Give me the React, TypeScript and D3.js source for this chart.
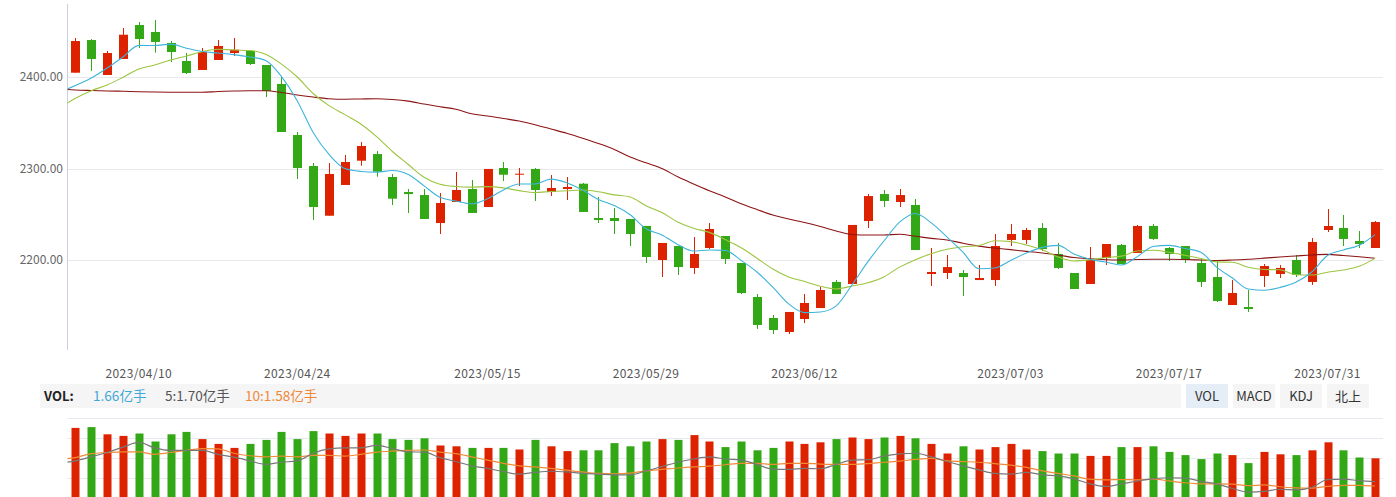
import React from 'react';
import * as d3 from 'd3';

// ---- data ----
const dates = [
  '2023/04/03','2023/04/04','2023/04/06','2023/04/07','2023/04/10','2023/04/11','2023/04/12','2023/04/13','2023/04/14',
  '2023/04/17','2023/04/18','2023/04/19','2023/04/20','2023/04/21','2023/04/24','2023/04/25','2023/04/26','2023/04/27',
  '2023/04/28','2023/05/04','2023/05/05','2023/05/08','2023/05/09','2023/05/10','2023/05/11','2023/05/12','2023/05/15',
  '2023/05/16','2023/05/17','2023/05/18','2023/05/19','2023/05/22','2023/05/23','2023/05/24','2023/05/25','2023/05/26',
  '2023/05/29','2023/05/30','2023/05/31','2023/06/01','2023/06/02','2023/06/05','2023/06/06','2023/06/07','2023/06/08',
  '2023/06/09','2023/06/12','2023/06/13','2023/06/14','2023/06/15','2023/06/16','2023/06/19','2023/06/20','2023/06/21',
  '2023/06/26','2023/06/27','2023/06/28','2023/06/29','2023/06/30','2023/07/03','2023/07/04','2023/07/05','2023/07/06',
  '2023/07/07','2023/07/10','2023/07/11','2023/07/12','2023/07/13','2023/07/14','2023/07/17','2023/07/18','2023/07/19',
  '2023/07/20','2023/07/21','2023/07/24','2023/07/25','2023/07/26','2023/07/27','2023/07/28','2023/07/31','2023/08/01',
  '2023/08/02','2023/08/03',
];

const open = [
  2404.7,2440.4,2402.2,2419.7,2456.8,2449.2,2437.2,2417.5,2407.7,2418.6,
  2426.2,2428.4,2413.1,2392.4,2336.6,2302.7,2248.4,2282.0,2308.5,2315.8,
  2290.7,2274.3,2271.0,2240.4,2263.4,2277.6,2257.9,2300.5,2293.2,2299.5,
  2274.3,2277.6,2283.4,2245.9,2245.9,2244.8,2237.2,2200.0,2215.3,2191.3,
  2213.1,2226.2,2196.7,2159.6,2136.6,2121.3,2135.5,2147.5,2176.0,2173.8,
  2242.6,2272.1,2263.4,2260.1,2184.7,2185.8,2185.8,2178.1,2178.1,2221.9,
  2221.9,2235.0,2206.6,2185.8,2173.8,2202.2,2216.4,2207.7,2237.2,2213.1,
  2215.3,2196.7,2181.4,2150.8,2148.6,2182.5,2184.7,2200.0,2176.0,2232.8,
  2235.0,2220.8,2213.1,
];
const high = [
  2442.6,2441.5,2428.4,2453.6,2460.1,2462.3,2439.3,2426.2,2431.7,2440.4,
  2442.6,2429.5,2413.1,2400.0,2339.9,2306.0,2306.0,2314.8,2329.0,2319.1,
  2294.0,2277.6,2277.6,2273.2,2296.2,2287.4,2299.5,2307.1,2300.5,2300.5,
  2292.9,2290.7,2284.2,2268.9,2256.8,2244.8,2237.2,2218.6,2215.3,2225.1,
  2240.4,2226.2,2196.7,2162.8,2139.9,2143.2,2162.8,2170.5,2178.1,2238.3,
  2272.1,2276.5,2277.6,2266.7,2213.1,2205.5,2189.1,2194.5,2228.4,2239.3,
  2235.0,2240.4,2218.6,2185.8,2214.2,2217.5,2217.5,2238.3,2239.3,2214.2,
  2215.3,2201.1,2200.0,2178.1,2167.2,2195.6,2194.5,2205.5,2224.0,2255.7,
  2249.2,2231.7,2242.6,
];
const low = [
  2404.7,2406.6,2402.2,2419.7,2431.7,2426.6,2416.4,2403.3,2407.7,2418.6,
  2423.0,2413.1,2378.1,2339.9,2288.5,2243.7,2248.4,2282.0,2303.1,2291.0,
  2260.1,2251.4,2244.8,2228.4,2263.4,2251.4,2257.9,2286.3,2280.9,2264.5,
  2269.9,2265.6,2252.5,2240.4,2228.4,2215.3,2196.7,2181.4,2183.6,2184.7,
  2212.0,2195.6,2162.8,2124.6,2119.1,2119.1,2131.1,2147.5,2162.8,2173.8,
  2235.0,2257.9,2257.9,2210.9,2171.6,2179.2,2160.7,2178.1,2171.6,2215.3,
  2217.5,2209.8,2190.2,2168.3,2173.8,2194.5,2195.6,2207.7,2221.9,2198.9,
  2196.7,2170.5,2154.1,2150.8,2143.2,2170.5,2180.3,2181.4,2172.7,2230.6,
  2215.3,2213.1,2213.1,
];
const close = [
  2439.3,2419.7,2426.2,2446.2,2441.5,2438.3,2427.3,2404.4,2427.3,2433.9,
  2429.8,2414.2,2384.7,2339.9,2300.5,2257.9,2294.0,2307.1,2324.6,2296.5,
  2267.0,2272.1,2244.8,2262.3,2276.5,2251.4,2299.5,2293.2,2294.3,2276.5,
  2278.7,2279.8,2252.5,2243.7,2242.6,2228.4,2203.3,2218.6,2192.3,2206.6,
  2233.9,2201.1,2163.9,2129.0,2123.5,2143.2,2153.0,2167.2,2162.8,2238.3,
  2269.9,2264.5,2271.0,2210.9,2186.9,2192.3,2181.4,2180.3,2215.3,2228.4,
  2232.8,2212.0,2191.3,2168.3,2200.0,2217.5,2195.6,2237.2,2223.0,2206.6,
  2200.0,2176.0,2155.2,2163.9,2146.4,2193.4,2191.3,2183.6,2219.7,2237.2,
  2223.0,2217.5,2241.5,
];

// moving-average lines; first value belongs to the trading day before 2023/04/03
const ma5 = [
  2383.6,2390.7,2398.9,2409.8,2421.9,2434.6,2434.4,2435.9,2431.5,2427.8,
  2426.2,2424.5,2421.9,2418.0,2400.5,2373.8,2339.4,2315.4,2299.9,2296.8,
  2296.0,2297.8,2293.5,2281.0,2268.5,2264.5,2261.4,2266.9,2276.6,2283.0,
  2283.0,2288.4,2284.5,2276.4,2266.2,2259.5,2249.4,2234.1,2227.3,2217.0,
  2209.8,2210.9,2210.5,2199.6,2186.9,2170.3,2152.1,2142.5,2143.2,2149.9,
  2172.9,2198.2,2220.5,2241.3,2250.9,2240.6,2225.1,2208.5,2190.4,2191.2,
  2199.5,2207.6,2213.8,2216.0,2206.6,2200.9,2197.8,2194.5,2203.7,2214.7,
  2216.0,2212.5,2208.6,2192.2,2180.3,2168.3,2167.0,2170.0,2175.7,2186.9,
  2205.0,2211.0,2216.2,2227.8,
];
const ma10 = [
  2366.1,2376.7,2385.0,2391.3,2399.7,2408.7,2413.1,2418.6,2423.0,2427.6,
  2430.4,2429.5,2428.9,2424.8,2414.1,2400.0,2382.0,2368.7,2358.9,2348.7,
  2334.9,2318.6,2304.4,2290.4,2282.7,2280.3,2279.6,2280.2,2278.8,2275.8,
  2273.8,2274.9,2275.7,2276.5,2274.6,2271.2,2268.9,2259.3,2251.8,2241.6,
  2234.7,2230.2,2222.3,2213.4,2202.0,2190.1,2181.5,2176.5,2171.4,2168.4,
  2171.6,2175.2,2181.5,2192.2,2200.4,2206.8,2211.7,2214.5,2215.8,2221.1,
  2220.1,2216.4,2211.1,2203.2,2198.9,2200.2,2202.7,2204.2,2209.8,2210.6,
  2208.4,2205.2,2201.6,2197.9,2197.5,2192.1,2189.7,2189.3,2183.9,2183.6,
  2186.7,2189.0,2193.1,2201.8,
];
const ma60 = [
  2386.9,2385.8,2385.2,2384.7,2384.4,2383.9,2383.6,2383.4,2383.3,2383.3,
  2384.2,2384.7,2385.0,2385.0,2383.1,2380.3,2378.1,2376.3,2375.7,2376.0,
  2376.3,2375.4,2373.6,2370.5,2367.5,2364.8,2359.8,2357.4,2354.6,2351.9,
  2347.9,2343.2,2338.5,2333.1,2327.3,2320.8,2312.6,2306.2,2300.0,2290.9,
  2283.1,2275.7,2268.9,2261.4,2255.2,2249.2,2244.8,2241.0,2236.6,2231.7,
  2227.9,2227.3,2227.3,2228.2,2226.0,2223.6,2221.9,2218.3,2215.2,2213.1,
  2211.3,2209.4,2207.7,2205.5,2202.7,2201.3,2200.3,2200.0,2200.5,2200.8,
  2200.8,2200.5,2200.0,2199.5,2200.0,2200.8,2202.0,2203.3,2204.4,2205.5,
  2206.1,2204.9,2203.5,2201.9,
];

// volume, 亿手
const volume = [
  2.04,2.05,1.96,1.94,1.97,1.87,1.96,1.99,1.90,1.84,
  1.79,1.84,1.89,1.99,1.90,2.00,1.97,1.94,1.97,1.97,
  1.90,1.89,1.91,1.82,1.81,1.79,1.79,1.79,1.77,1.89,
  1.81,1.75,1.76,1.76,1.85,1.81,1.87,1.90,1.89,1.95,
  1.87,1.80,1.87,1.76,1.79,1.87,1.84,1.86,1.90,1.92,
  1.90,1.92,1.94,1.91,1.84,1.72,1.81,1.77,1.80,1.84,
  1.77,1.75,1.72,1.72,1.69,1.69,1.80,1.80,1.81,1.74,
  1.70,1.65,1.72,1.70,1.60,1.74,1.71,1.70,1.76,1.86,
  1.76,1.67,1.66,
];
const volMa5 = [
  2.22,2.28,2.39,2.51,2.66,2.79,2.64,2.57,2.57,2.57,
  2.46,2.38,2.28,2.18,2.24,2.28,2.49,2.61,2.64,2.64,
  2.71,2.62,2.53,2.52,2.37,2.26,2.14,2.07,1.98,1.91,
  1.96,1.99,1.97,1.93,1.91,1.89,1.89,2.00,2.12,2.24,
  2.33,2.39,2.33,2.30,2.18,2.05,2.04,2.07,2.06,2.18,
  2.30,2.31,2.41,2.47,2.49,2.39,2.26,2.14,2.03,1.93,
  1.91,1.96,1.89,1.86,1.78,1.64,1.57,1.64,1.72,1.78,
  1.81,1.80,1.71,1.64,1.51,1.41,1.43,1.49,1.47,1.54,
  1.76,1.77,1.73,1.70,
];
const volMa10 = [
  2.33,2.37,2.48,2.51,2.53,2.53,2.46,2.51,2.57,2.62,
  2.61,2.49,2.42,2.39,2.41,2.39,2.43,2.43,2.41,2.46,
  2.52,2.55,2.57,2.58,2.52,2.48,2.39,2.30,2.21,2.14,
  2.11,2.07,2.02,1.97,1.93,1.92,1.94,2.00,2.04,2.08,
  2.11,2.13,2.17,2.21,2.21,2.18,2.21,2.21,2.19,2.18,
  2.18,2.20,2.24,2.27,2.32,2.35,2.28,2.26,2.24,2.20,
  2.16,2.10,2.00,1.93,1.86,1.77,1.75,1.76,1.75,1.77,
  1.72,1.67,1.64,1.64,1.63,1.59,1.61,1.56,1.53,1.52,
  1.57,1.60,1.60,1.58,
];

const priceTicks = [2200, 2300, 2400];
const dateTicks = ['2023/04/10','2023/04/24','2023/05/15','2023/05/29','2023/06/12','2023/07/03','2023/07/17','2023/07/31'];
const volGridTicks = [1.41, 1.66, 1.91, 2.16];
const legendItems = [
  { text: '1.66亿手', color: '#3fa9d6' },
  { text: '5:1.70亿手', color: '#555555' },
  { text: '10:1.58亿手', color: '#f0883a' },
];
const tabs = ['VOL', 'MACD', 'KDJ', '北上'];

// ---- layout ----
const W = 1396;
const H = 497;
const LEFT = 67.5;
const RIGHT = 1383;
const RED = '#dd2200';
const GREEN = '#33a816';
const FONT = '"Noto Sans CJK SC", "Liberation Sans", Arial, sans-serif';

export default function App() {
  const x = d3.scaleLinear().domain([-0.5, dates.length - 0.5]).range([LEFT, RIGHT]);
  const y = d3.scaleLinear().domain([2200, 2400]).range([260, 77]);
  const yVol = d3.scaleLinear().domain([1.16, 2.16]).range([498.3, 418.3]);
  const yVolMa = d3.scaleLinear().domain([1.247, 3.469]).range([498, 418]);

  const priceLine = d3
    .line<number>()
    .x((_, i) => x(i - 1))
    .y((d) => y(d))
    .curve(d3.curveMonotoneX);
  const volLine = d3
    .line<number>()
    .x((_, i) => x(i - 1))
    .y((d) => yVolMa(d))
    .curve(d3.curveMonotoneX);

  const bodyW = 9;
  const volW = 8;

  return (
    <div style={{ position: 'absolute', left: 0, top: 0, width: W, height: H, overflow: 'hidden', background: '#fff' }}>
      <svg width={W} height={H} style={{ display: 'block' }} fontFamily={FONT}>
        <defs>
          <clipPath id="mainClip">
            <rect x={LEFT} y={4} width={RIGHT - LEFT} height={346} />
          </clipPath>
          <clipPath id="volClip">
            <rect x={LEFT} y={412} width={RIGHT - LEFT} height={90} />
          </clipPath>
        </defs>

        {/* price grid */}
        {priceTicks.map((t) => (
          <line key={t} x1={LEFT} x2={RIGHT} y1={Math.round(y(t)) + 0.5} y2={Math.round(y(t)) + 0.5} stroke="#e9e9ec" strokeWidth={1} />
        ))}
        {priceTicks.map((t) => (
          <text key={'l' + t} x={63} y={y(t)} dy="0.35em" textAnchor="end" fontSize={12} fill="#666">
            {d3.format('.2f')(t)}
          </text>
        ))}
        <line x1={LEFT} x2={LEFT} y1={4} y2={350} stroke="#c9d1e0" strokeWidth={1} />

        {/* candles */}
        <g clipPath="url(#mainClip)">
          {dates.map((d, i) => {
            const up = close[i] >= open[i];
            const c = up ? RED : GREEN;
            const cx = Math.round(x(i)) + 0.5;
            const top = y(Math.max(open[i], close[i]));
            const bot = y(Math.min(open[i], close[i]));
            return (
              <g key={d}>
                <line x1={cx} x2={cx} y1={y(high[i])} y2={y(low[i])} stroke={c} strokeWidth={1} />
                <rect x={cx - bodyW / 2} y={top} width={bodyW} height={Math.max(1, bot - top)} fill={c} />
              </g>
            );
          })}
          <path d={priceLine(ma60) || ''} fill="none" stroke="#8c1414" strokeWidth={1.1} />
          <path d={priceLine(ma10) || ''} fill="none" stroke="#9dc53f" strokeWidth={1.1} />
          <path d={priceLine(ma5) || ''} fill="none" stroke="#3db4da" strokeWidth={1.1} />
        </g>

        {/* date labels */}
        {dateTicks.map((t) => (
          <text key={t} x={x(dates.indexOf(t))} y={378} textAnchor="middle" fontSize={12} fill="#555" letterSpacing={0.4}>
            {t}
          </text>
        ))}

        {/* legend bar */}
        <rect x={40} y={384} width={1141} height={24} fill="#f5f5f5" />
        <text x={44} y={401} fontSize={13} fontWeight="bold" fill="#222">VOL:</text>
        {legendItems.map((it, k) => (
          <text key={it.text} x={[93, 165, 245][k]} y={401} fontSize={13.6} fill={it.color}>
            {it.text}
          </text>
        ))}
        {tabs.map((t, k) => (
          <g key={t}>
            <rect x={1186 + k * 47} y={384} width={42} height={24} fill={k === 0 ? '#e5edf7' : '#f5f5f5'} />
            <text x={1186 + k * 47 + 21} y={401} textAnchor="middle" fontSize={13} fill="#333">
              {t}
            </text>
          </g>
        ))}

        {/* volume grid */}
        {volGridTicks.map((t) => (
          <line key={t} x1={LEFT} x2={RIGHT} y1={Math.round(yVol(t)) + 0.5} y2={Math.round(yVol(t)) + 0.5} stroke="#e6e9ef" strokeWidth={1} />
        ))}
        <g clipPath="url(#volClip)">
          {dates.map((d, i) => {
            const up = close[i] >= open[i];
            const cx = Math.round(x(i)) + 0.5;
            const top = yVol(volume[i]);
            return <rect key={d} x={cx - volW / 2} y={top} width={volW} height={H + 5 - top} fill={up ? RED : GREEN} />;
          })}
          <path d={volLine(volMa10) || ''} fill="none" stroke="#f08a36" strokeWidth={1.2} />
          <path d={volLine(volMa5) || ''} fill="none" stroke="#777" strokeWidth={1.2} />
        </g>
      </svg>
    </div>
  );
}
